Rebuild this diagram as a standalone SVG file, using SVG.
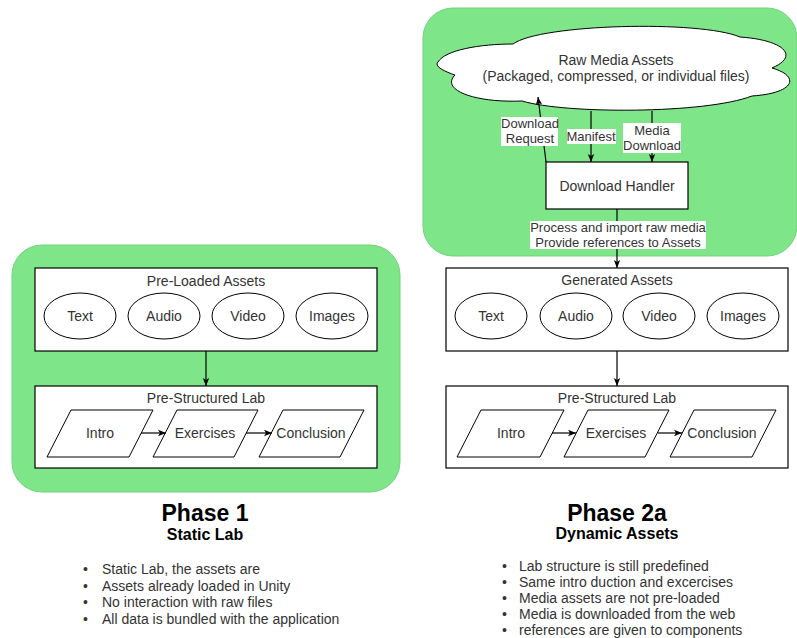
<svg xmlns="http://www.w3.org/2000/svg" width="797" height="638" viewBox="0 0 797 638">
<defs>
<marker id="arr" viewBox="0 0 10 10" refX="10" refY="5" markerWidth="8" markerHeight="8" orient="auto" markerUnits="userSpaceOnUse">
<path d="M0,1 L10,5 L0,9 L2.5,5 z" fill="#000"/>
</marker>
<style>
.zone{fill:#7fe589;stroke:#74d27e;stroke-width:1}
.box{fill:#fff;stroke:#000;stroke-width:1.2}
.shp{fill:#fff;stroke:#000;stroke-width:1}
.t{font-family:"Liberation Sans",Arial,sans-serif;font-size:14px;fill:#333;text-anchor:middle}
.el{font-family:"Liberation Sans",Arial,sans-serif;font-size:13px;fill:#333;text-anchor:middle}
.lbg{fill:#fff}
.h1{font-family:"Liberation Sans",Arial,sans-serif;font-size:23px;font-weight:bold;fill:#000;text-anchor:middle}
.h2{font-family:"Liberation Sans",Arial,sans-serif;font-size:16px;font-weight:bold;fill:#000;text-anchor:middle}
.b{font-family:"Liberation Sans",Arial,sans-serif;font-size:14px;fill:#333}
.c{fill:none;stroke:#000;stroke-width:1.2;marker-end:url(#arr)}
</style>
</defs>
<rect width="797" height="638" fill="#fff"/>

<g id="phase1-zone"><rect class="zone" x="12" y="245" width="388" height="247" rx="30"/></g>
<g id="phase2-zone"><rect class="zone" x="423" y="8" width="374" height="248" rx="30"/></g>

<g id="preloaded-assets">
<rect class="box" x="35" y="268" width="342" height="83"/>
<text class="t" x="206" y="286">Pre-Loaded Assets</text>
</g>
<g id="p1-text"><ellipse class="shp" cx="80" cy="316" rx="36" ry="23"/><text class="t" x="80" y="321">Text</text></g>
<g id="p1-audio"><ellipse class="shp" cx="164" cy="316" rx="36" ry="23"/><text class="t" x="164" y="321">Audio</text></g>
<g id="p1-video"><ellipse class="shp" cx="248" cy="316" rx="36" ry="23"/><text class="t" x="248" y="321">Video</text></g>
<g id="p1-images"><ellipse class="shp" cx="332" cy="316" rx="36" ry="23"/><text class="t" x="332" y="321">Images</text></g>

<g id="p1-lab">
<rect class="box" x="35" y="386" width="342" height="82"/>
<text class="t" x="206" y="403">Pre-Structured Lab</text>
</g>
<g id="p1-intro"><polygon class="shp" points="71,410 153,410 129,457 47,457"/><text class="t" x="100" y="438">Intro</text></g>
<g id="p1-exercises"><polygon class="shp" points="177,410 258,410 234,457 153,457"/><text class="t" x="205" y="438">Exercises</text></g>
<g id="p1-conclusion"><polygon class="shp" points="283,410 364,410 340,457 259,457"/><text class="t" x="311" y="438">Conclusion</text></g>

<g id="cloud">
<path class="shp" d="M438,62 C445,50 480,44 513,44 C540,24 700,20 740,37 C784,40 800,56 772,68 C800,76 796,93 752,96 C705,114 565,114 522,101 C475,103 440,90 455,75 C443,71 434,66 438,62 Z"/>
<text class="t" x="616" y="65">Raw Media Assets</text>
<text class="t" x="616" y="81">(Packaged, compressed, or individual files)</text>
</g>

<g id="download-handler">
<rect class="box" x="546" y="162" width="142" height="47"/>
<text class="t" x="617" y="191">Download Handler</text>
</g>

<g id="generated-assets">
<rect class="box" x="446" y="268" width="342" height="83"/>
<text class="t" x="617" y="285">Generated Assets</text>
</g>
<g id="p2-text"><ellipse class="shp" cx="491" cy="316" rx="36" ry="23"/><text class="t" x="491" y="321">Text</text></g>
<g id="p2-audio"><ellipse class="shp" cx="576" cy="316" rx="36" ry="23"/><text class="t" x="576" y="321">Audio</text></g>
<g id="p2-video"><ellipse class="shp" cx="659" cy="316" rx="36" ry="23"/><text class="t" x="659" y="321">Video</text></g>
<g id="p2-images"><ellipse class="shp" cx="743" cy="316" rx="36" ry="23"/><text class="t" x="743" y="321">Images</text></g>

<g id="p2-lab">
<rect class="box" x="446" y="386" width="342" height="82"/>
<text class="t" x="617" y="403">Pre-Structured Lab</text>
</g>
<g id="p2-intro"><polygon class="shp" points="481,410 564,410 540,457 457,457"/><text class="t" x="511" y="438">Intro</text></g>
<g id="p2-exercises"><polygon class="shp" points="588,410 669,410 645,457 564,457"/><text class="t" x="616" y="438">Exercises</text></g>
<g id="p2-conclusion"><polygon class="shp" points="694,410 776,410 752,457 670,457"/><text class="t" x="722" y="438">Conclusion</text></g>

<g id="connectors">
<line class="c" x1="206" y1="351" x2="206" y2="386"/>
<line class="c" x1="141" y1="433" x2="166" y2="433"/>
<line class="c" x1="246" y1="433" x2="272" y2="433"/>
<line class="c" x1="552" y1="433" x2="576" y2="433"/>
<line class="c" x1="658" y1="433" x2="682" y2="433"/>
<line class="c" x1="617" y1="351" x2="617" y2="386"/>
<line class="c" x1="546" y1="162" x2="538" y2="97"/>
<line class="c" x1="591" y1="111" x2="591" y2="162"/>
<line class="c" x1="652" y1="111" x2="652" y2="162"/>
<line class="c" x1="617" y1="209" x2="617" y2="268"/>
<rect class="lbg" x="501" y="117" width="57" height="29"/>
<text class="el" x="530" y="128">Download</text>
<text class="el" x="530" y="143">Request</text>
<rect class="lbg" x="567" y="129" width="49" height="15"/>
<text class="el" x="591" y="141">Manifest</text>
<rect class="lbg" x="623" y="123" width="58" height="30"/>
<text class="el" x="652" y="135">Media</text>
<text class="el" x="652" y="150">Download</text>
<rect class="lbg" x="530" y="221" width="176" height="28"/>
<text class="el" x="618" y="232">Process and import raw media</text>
<text class="el" x="618" y="247">Provide references to Assets</text>
</g>

<g id="phase1-caption">
<text class="h1" x="205" y="521">Phase 1</text>
<text class="h2" x="205" y="540">Static Lab</text>
<text class="b" x="83" y="574">•</text><text class="b" x="102" y="574">Static Lab, the assets are</text>
<text class="b" x="83" y="590.5">•</text><text class="b" x="102" y="590.5">Assets already loaded in Unity</text>
<text class="b" x="83" y="607">•</text><text class="b" x="102" y="607">No interaction with raw files</text>
<text class="b" x="83" y="623.5">•</text><text class="b" x="102" y="623.5">All data is bundled with the application</text>
</g>

<g id="phase2-caption">
<text class="h1" x="617" y="521">Phase 2a</text>
<text class="h2" x="617" y="539">Dynamic Assets</text>
<text class="b" x="502" y="571">•</text><text class="b" x="519" y="571">Lab structure is still predefined</text>
<text class="b" x="502" y="587">•</text><text class="b" x="519" y="587">Same intro duction and excercises</text>
<text class="b" x="502" y="603">•</text><text class="b" x="519" y="603">Media assets are not pre-loaded</text>
<text class="b" x="502" y="619">•</text><text class="b" x="519" y="619">Media is downloaded from the web</text>
<text class="b" x="502" y="635">•</text><text class="b" x="519" y="635">references are given to components</text>
</g>
</svg>
